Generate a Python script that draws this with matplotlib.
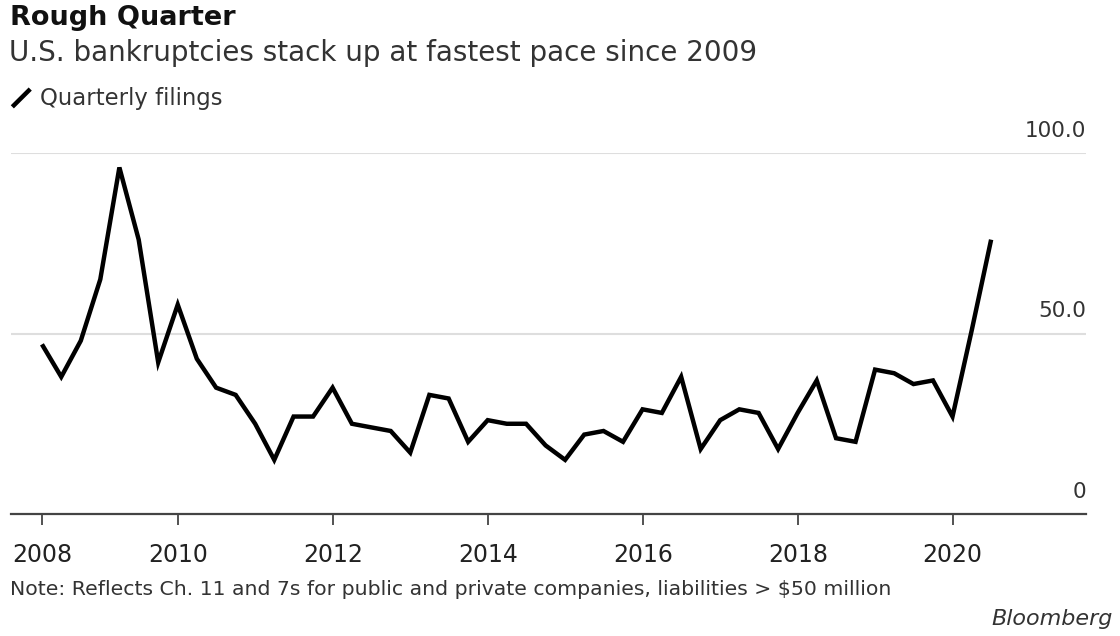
import numpy as np
import pandas as pd
import matplotlib
matplotlib.use("Agg")
import matplotlib.pyplot as plt
from matplotlib.lines import Line2D

plt.rcParams['font.family'] = ['DejaVu Sans']

# Quarterly filings, 2008 Q1 .. 2020 Q2
quarters = pd.period_range("2008Q1", "2020Q2", freq="Q")
filings = [47, 38, 48, 65, 96, 76, 42, 58, 43, 35,
           33, 25, 15, 27, 27, 35, 25, 24, 23, 17,
           33, 32, 20, 26, 25, 25, 19, 15, 22, 23,
           20, 29, 28, 38, 18, 26, 29, 28, 18, 28,
           37, 21, 20, 40, 39, 36, 37, 27, 51, 76]
tick_years = [2008, 2010, 2012, 2014, 2016, 2018, 2020]
y_ticks = [0, 50, 100]
y_labels = ["0", "50.0", "100.0"]

dates = quarters.to_timestamp(how="end").normalize()

fig = plt.figure(figsize=(11.2, 6.36), dpi=100)
ax = fig.add_axes([0.0098, 0.1918, 0.9598, 0.5676])

ax.plot(dates, filings, color="black", lw=3.2, solid_joinstyle="miter",
        solid_capstyle="butt", zorder=3)

ax.set_ylim(0, 100)
ax.set_xlim(pd.Timestamp("2007-11-06"), pd.Timestamp("2021-09-20"))

# gridlines
for v in y_ticks[1:]:
    ax.axhline(v, color="#dedede", lw=1.5, zorder=1)
for v, lab in zip(y_ticks, y_labels):
    ax.annotate(lab, xy=(1, v), xycoords=("axes fraction", "data"),
                xytext=(0, 9), textcoords="offset points",
                ha="right", va="bottom", fontsize=15.5, color="#333333")

for s in ["top", "right", "left"]:
    ax.spines[s].set_visible(False)
ax.spines["bottom"].set_color("#444444")
ax.spines["bottom"].set_linewidth(1.6)
ax.set_yticks([])

tick_pos = [dates[0]] + [pd.Timestamp(f"{y}-01-01") for y in tick_years[1:]]
ax.set_xticks(tick_pos)
ax.set_xticklabels([str(y) for y in tick_years])
ax.tick_params(axis="x", direction="out", length=8, width=1.3, color="#444444",
               pad=13, labelsize=17, labelcolor="#222222")

# titles
fig.text(0.009, 0.972, "Rough Quarter", fontsize=19.5, fontweight="bold",
         color="#111111", va="center", ha="left")
fig.text(0.008, 0.917, "U.S. bankruptcies stack up at fastest pace since 2009",
         fontsize=20, color="#333333", va="center", ha="left")

# legend
leg_line = Line2D([0.011, 0.027], [0.832, 0.86], transform=fig.transFigure,
                  color="black", lw=3.2, solid_capstyle="butt")
fig.add_artist(leg_line)
fig.text(0.0357, 0.845, "Quarterly filings", fontsize=16.4, color="#333333",
         va="center", ha="left")

fig.text(0.009, 0.073,
         "Note: Reflects Ch. 11 and 7s for public and private companies, liabilities > $50 million",
         fontsize=14.7, color="#333333", va="center", ha="left")
fig.text(0.994, 0.026, "Bloomberg", fontsize=16, style="italic", color="#333333",
         va="center", ha="right")

fig.savefig("out.png", dpi=100, facecolor="white")
